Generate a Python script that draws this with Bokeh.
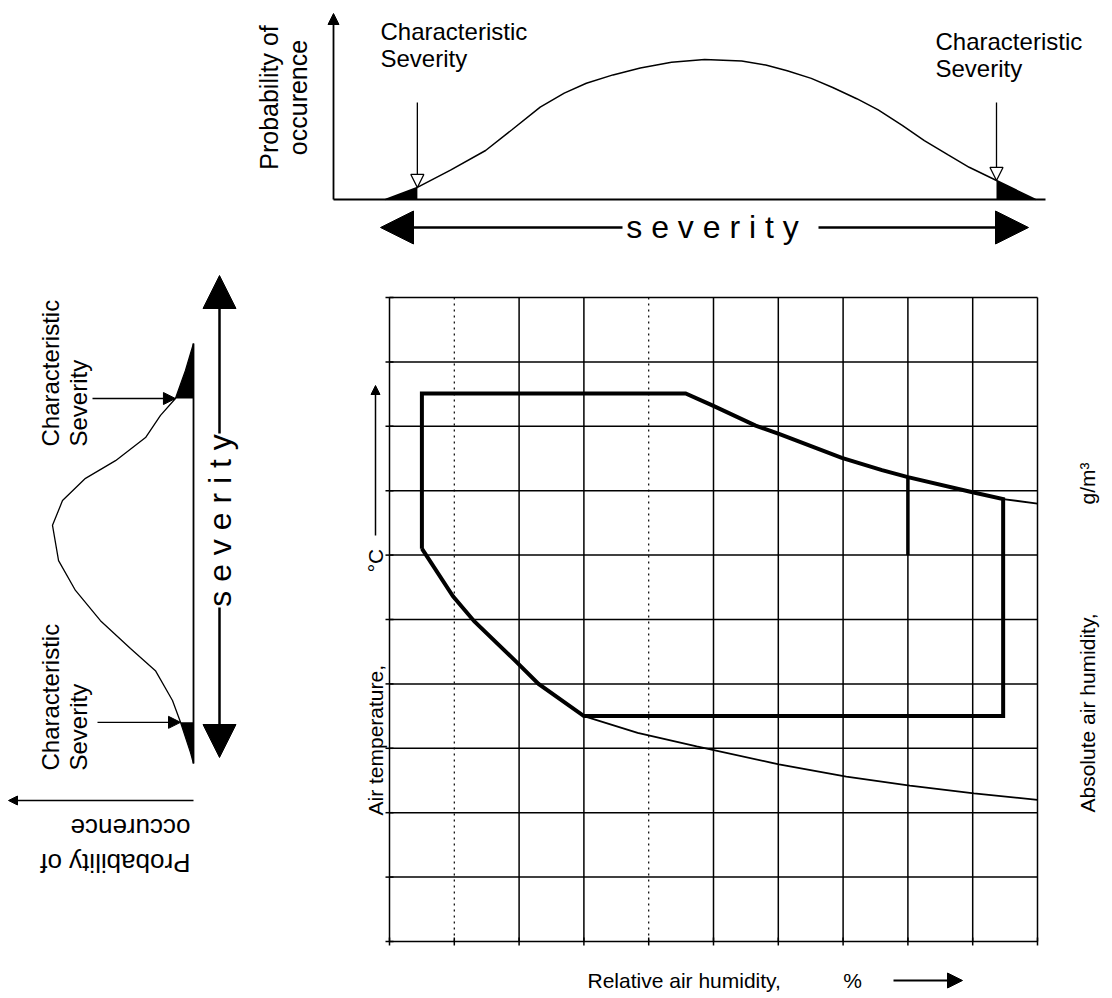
import math
import numpy as np
from bokeh.plotting import figure
from bokeh.models import Range1d, Label, Arrow, NormalHead
from bokeh.layouts import row, column
from bokeh.embed import file_html
from bokeh.resources import INLINE

FONT = "Liberation Sans"
INK = "black"

# ---------------- main chart data (grid units) ----------------
rh_grid = [0, 1, 2, 3, 4, 5, 6, 7, 8, 9, 10]
rh_grid_dotted = [1, 4]
temp_grid = [0, 1, 2, 3, 4, 5, 6, 7, 8, 9, 10]

# absolute-humidity iso-lines
upper_rh = [4.57, 4.99, 5.65, 6.02, 6.98, 7.60, 8.00, 8.98, 9.47, 10.0]
upper_t = [8.51, 8.32, 8.01, 7.88, 7.51, 7.32, 7.21, 6.98, 6.87, 6.80]
lower_rh = [0.50, 0.98, 1.31, 1.95, 2.30, 3.00, 3.83, 4.74, 6.01, 7.05, 8.03, 9.02, 10.0]
lower_t = [6.10, 5.36, 4.97, 4.35, 4.00, 3.50, 3.24, 3.03, 2.75, 2.56, 2.42, 2.30, 2.20]

# climatogram envelope limits
env_rh_min, env_rh_max = 0.50, 9.47
env_t_min, env_t_max = 3.50, 8.51
inner_rh, inner_t_min = 8.0, 6.0

# ---------------- top distribution ----------------
top_sev = [0, 4.9, 10, 15.4, 19.5, 23.8, 27.5, 30.9, 35.0, 39.2, 44.0, 49.1, 54.8, 58.5, 61.8, 65.5,
           68.8, 72.5, 75.8, 79.5, 82.9, 86.5, 89.8, 94.0, 100]
top_prob = [0, 0.086, 0.21, 0.35, 0.50, 0.66, 0.76, 0.83, 0.89, 0.94, 0.98, 1.0, 0.99, 0.96, 0.92, 0.865,
            0.80, 0.72, 0.64, 0.53, 0.42, 0.32, 0.23, 0.136, 0.0]
top_char = [4.9, 94.0]

# ---------------- left distribution (rotated) ----------------
left_sev = [0, 2.6, 9.8, 15.0, 22.1, 27.4, 34.0, 41.2, 48.3, 56.7, 62.6, 67.9, 72.1, 77.6, 82.9, 86.9, 93.6, 100]
left_prob = [0, 0.021, 0.092, 0.149, 0.27, 0.447, 0.66, 0.837, 0.957, 1.0, 0.929, 0.766, 0.553, 0.34, 0.234, 0.128, 0.057, 0]
left_char = [9.8, 86.9]

TXT = dict(text_font=FONT, text_color=INK)


def lab(fig, x, y, text, size=22, angle=0.0, align="left", baseline="middle"):
    fig.add_layout(Label(x=x, y=y, text=text, angle=angle, text_font_size=f"{size}px",
                         text_align=align, text_baseline=baseline, **TXT))


def arrow(fig, xs, ys, xe, ye, size, lw=1.5, fill=INK, hlw=1.0):
    fig.add_layout(Arrow(x_start=xs, y_start=ys, x_end=xe, y_end=ye, line_width=lw, line_color=INK,
                         end=NormalHead(size=size, fill_color=fill, line_color=INK, line_width=hlw)))


def bare(width, height, xr, yr):
    f = figure(width=width, height=height, x_range=Range1d(*xr), y_range=Range1d(*yr),
               output_backend="svg", toolbar_location=None,
               x_axis_location=None, y_axis_location=None, min_border=0)
    f.grid.visible = False
    f.outline_line_color = None
    return f


# page layout (pixels): left panel x 0..248; top panel y 0..262; main y 262..992
# ================= top panel =================
def tsx(x):
    return (x - 385) / 6.5


def tpy(y):
    return (199 - y) / 140


top = bare(856, 262, (tsx(248), tsx(1104)), (tpy(262), tpy(0)))

ts = np.array(top_sev)
tp = np.array(top_prob)
m = ts <= top_char[0]
top.varea(x=ts[m], y1=0, y2=tp[m], fill_color=INK)
m = ts >= top_char[1]
top.varea(x=ts[m], y1=0, y2=tp[m], fill_color=INK)
top.line(ts, tp, line_color=INK, line_width=1.5)
top.line([tsx(333), tsx(1045)], [0, 0], line_color=INK, line_width=2)
arrow(top, tsx(333), 0, tsx(333), tpy(13), 11, lw=1.8)
for c in top_char:
    arrow(top, c, tpy(102), c, float(np.interp(c, ts, tp)), 13, lw=1.3, fill="white", hlw=1.3)
lab(top, tsx(268), tpy(97), "Probability of", 25, math.pi / 2, "center")
lab(top, tsx(297), tpy(97), "occurence", 25, math.pi / 2, "center")
lab(top, tsx(380), tpy(31), "Characteristic", 24, baseline="alphabetic")
lab(top, tsx(380), tpy(58), "Severity", 24, baseline="alphabetic")
lab(top, tsx(935), tpy(41), "Characteristic", 24, baseline="alphabetic")
lab(top, tsx(935), tpy(68), "Severity", 24, baseline="alphabetic")
lab(top, tsx(712), tpy(226), " ".join("severity"), 32, align="center")
arrow(top, tsx(622), tpy(227), tsx(380), tpy(227), 33, lw=2.5)
arrow(top, tsx(818), tpy(227), tsx(1028), tpy(227), 33, lw=2.5)


# ================= left panel =================
def lpx(x):
    return (193 - x) / 141


def lsy(y):
    return (763 - y) / 4.2


left = bare(248, 992, (lpx(0), lpx(248)), (lsy(992), lsy(0)))

ls = np.array(left_sev)
lp = np.array(left_prob)
m = ls <= left_char[0]
left.harea(y=ls[m], x1=0, x2=lp[m], fill_color=INK)
m = ls >= left_char[1]
left.harea(y=ls[m], x1=0, x2=lp[m], fill_color=INK)
left.line(lp, ls, line_color=INK, line_width=1.3)
left.line([0, 0], [0, 100], line_color=INK, line_width=1.8)
arrow(left, 0, lsy(800), lpx(8), lsy(800), 9, lw=1.5)
arrow(left, lpx(97), left_char[0], float(np.interp(left_char[0], ls, lp)), left_char[0], 12, lw=1.3)
arrow(left, lpx(92), left_char[1], float(np.interp(left_char[1], ls, lp)), left_char[1], 12, lw=1.3)
lab(left, lpx(190), lsy(827), "occurence", 26, math.pi, "left")
lab(left, lpx(190), lsy(862), "Probability of", 26, math.pi, "left")
for ystart in (770, 446):
    lab(left, lpx(50), lsy(ystart), "Characteristic", 24, math.pi / 2, "left", "alphabetic")
    lab(left, lpx(78), lsy(ystart), "Severity", 24, math.pi / 2, "left", "alphabetic")
lab(left, lpx(219), lsy(520), " ".join("severity"), 32, math.pi / 2, "center")
arrow(left, lpx(219), lsy(433), lpx(219), lsy(275), 33, lw=2.5)
arrow(left, lpx(219), lsy(607), lpx(219), lsy(757), 33, lw=2.5)


# ================= main chart =================
def mgx(x):
    return (x - 389) / 64.8


def mgy(y):
    return (941 - y) / 64.4


main = bare(856, 730, (mgx(248), mgx(1104)), (mgy(992), mgy(262)))

x0, x1 = rh_grid[0], rh_grid[-1]
y0, y1 = temp_grid[0], temp_grid[-1]
solid_cols = [c for c in rh_grid if c not in rh_grid_dotted]
main.segment(x0=solid_cols, y0=[y0] * len(solid_cols), x1=solid_cols, y1=[y1] * len(solid_cols),
             line_color=INK, line_width=1.5)
main.segment(x0=rh_grid_dotted, y0=[y0] * 2, x1=rh_grid_dotted, y1=[y1] * 2,
             line_color=INK, line_width=1.2, line_dash="2 4")
main.segment(x0=[x0] * len(temp_grid), y0=temp_grid, x1=[x1] * len(temp_grid), y1=temp_grid,
             line_color=INK, line_width=1.5)
# small tick marks on the left and bottom edges
tk = 4 / 64.8
main.segment(x0=[x0 - tk] * len(temp_grid), y0=temp_grid, x1=[x0 + tk] * len(temp_grid), y1=temp_grid,
             line_color=INK, line_width=1.5)
main.segment(x0=rh_grid, y0=[y0 - tk] * len(rh_grid), x1=rh_grid, y1=[y0 + tk] * len(rh_grid),
             line_color=INK, line_width=1.5)

# thin iso-lines
main.line(upper_rh, upper_t, line_color=INK, line_width=1.8)
main.line(lower_rh, lower_t, line_color=INK, line_width=1.8)

# thick envelope
ur = np.array(upper_rh)
ut = np.array(upper_t)
lr = np.array(lower_rh)
lt = np.array(lower_t)
mu = ur <= env_rh_max
ml = lr <= 3.0
env_x = [env_rh_min, env_rh_min] + list(ur[mu]) + [env_rh_max, env_rh_max, lr[ml][-1]] + list(lr[ml][::-1])
env_y = [lt[0], env_t_max] + list(ut[mu]) + [float(np.interp(env_rh_max, ur, ut)), env_t_min, env_t_min] + list(lt[ml][::-1])
main.line(env_x, env_y, line_color=INK, line_width=4, line_join="miter")
main.line([inner_rh, inner_rh], [float(np.interp(inner_rh, ur, ut)), inner_t_min], line_color=INK, line_width=3.5)

# axis titles
lab(main, mgx(375), mgy(815), "Air temperature,", 21, math.pi / 2, "left")
lab(main, mgx(375), mgy(560), "°C", 21, math.pi / 2, "center")
arrow(main, mgx(375), mgy(535), mgx(375), mgy(385), 9, lw=1.5)
lab(main, mgx(587), mgy(980), "Relative air humidity,", 21, 0.0, "left")
lab(main, mgx(852), mgy(980), "%", 21, 0.0, "center")
arrow(main, mgx(893), mgy(980), mgx(962), mgy(980), 15, lw=1.8)
lab(main, mgx(1087), mgy(812), "Absolute air humidity,", 21, math.pi / 2, "left")
lab(main, mgx(1087), mgy(483), "g/m³", 21, math.pi / 2, "center")

layout = row(left, column(top, main))
open("out.html", "w").write(file_html(layout, INLINE))
